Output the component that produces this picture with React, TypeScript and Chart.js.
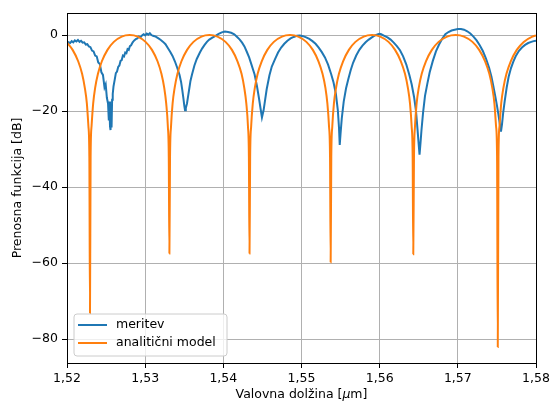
import React, { useEffect, useRef } from 'react';
import { Chart, registerables } from 'chart.js';

Chart.register(...registerables);

// ---- data ----
const measuredWl = [
  1.52000, 1.52020, 1.52040, 1.52060, 1.52080, 1.52100, 1.52120, 1.52140, 1.52160, 1.52180,
  1.52200, 1.52220, 1.52240, 1.52260, 1.52280, 1.52300, 1.52320, 1.52340, 1.52360, 1.52380,
  1.52400, 1.52420, 1.52440, 1.52460, 1.52480, 1.52495, 1.52510, 1.52525, 1.52535, 1.52542,
  1.52550, 1.52557, 1.52563, 1.52570, 1.52577, 1.52585, 1.52595, 1.52610, 1.52625, 1.52640,
  1.52655, 1.52670, 1.52685, 1.52700, 1.52715, 1.52730, 1.52745, 1.52760, 1.52775, 1.52790,
  1.52805, 1.52820, 1.52840, 1.52860, 1.52880, 1.52900, 1.52920, 1.52940, 1.52960, 1.52980,
  1.53000, 1.53020, 1.53040, 1.53060, 1.53080, 1.53100, 1.53120, 1.53140, 1.53170, 1.53200,
  1.53230, 1.53260, 1.53290, 1.53320, 1.53350, 1.53380, 1.53410, 1.53440, 1.53460, 1.53475,
  1.53490, 1.53500, 1.53510, 1.53520, 1.53535, 1.53550, 1.53565, 1.53580, 1.53600, 1.53630,
  1.53660, 1.53700, 1.53730, 1.53760, 1.53790, 1.53820, 1.53860, 1.53900, 1.53940, 1.53980,
  1.54020, 1.54060, 1.54100, 1.54140, 1.54180, 1.54210, 1.54240, 1.54270, 1.54300, 1.54330,
  1.54360, 1.54400, 1.54430, 1.54455, 1.54475, 1.54494, 1.54515, 1.54535, 1.54555, 1.54590,
  1.54620, 1.54660, 1.54700, 1.54740, 1.54780, 1.54820, 1.54860, 1.54900, 1.54940, 1.54980,
  1.55020, 1.55060, 1.55100, 1.55140, 1.55180, 1.55220, 1.55260, 1.55300, 1.55340, 1.55380,
  1.55410, 1.55440, 1.55465, 1.55480, 1.55489, 1.55500, 1.55515, 1.55540, 1.55570, 1.55600,
  1.55630, 1.55660, 1.55700, 1.55740, 1.55780, 1.55820, 1.55860, 1.55900, 1.55940, 1.55980,
  1.56000, 1.56020, 1.56060, 1.56100, 1.56140, 1.56180, 1.56220, 1.56260, 1.56300, 1.56340,
  1.56380, 1.56410, 1.56440, 1.56465, 1.56485, 1.56500, 1.56510, 1.56522, 1.56535, 1.56555,
  1.56580, 1.56610, 1.56640, 1.56680, 1.56720, 1.56760, 1.56800, 1.56840, 1.56880, 1.56920,
  1.56960, 1.57000, 1.57040, 1.57080, 1.57120, 1.57160, 1.57200, 1.57240, 1.57280, 1.57320,
  1.57360, 1.57400, 1.57430, 1.57455, 1.57480, 1.57500, 1.57520, 1.57540, 1.57552, 1.57565,
  1.57580, 1.57600, 1.57625, 1.57650, 1.57680, 1.57710, 1.57740, 1.57780, 1.57820, 1.57860,
  1.57900, 1.57940, 1.57970, 1.58000,
];
const measuredDb = [
  -2.3, -1.9, -2.1, -1.6, -1.9, -1.4, -1.7, -1.3, -1.8, -1.5,
  -2.0, -1.9, -2.5, -2.4, -3.0, -3.2, -4.1, -4.3, -5.4, -5.6,
  -7.2, -7.6, -9.8, -10.5, -13.8, -13.0, -16.5, -18.0, -22.5, -17.5,
  -24.0, -25.0, -19.0, -24.3, -17.0, -15.5, -13.5, -11.8, -10.0, -9.6,
  -8.4, -8.0, -6.8, -6.6, -5.4, -5.6, -4.6, -4.8, -3.7, -3.9,
  -2.9, -2.7, -1.9, -1.4, -1.1, -0.9, -0.4, -0.6, -0.1, 0.2,
  -0.1, 0.4, 0.1, 0.5, 0.0, -0.2, -0.3, -0.5, -0.9, -1.3,
  -1.8, -2.4, -3.4, -4.4, -5.5, -6.9, -8.6, -10.5, -12.4, -14.5,
  -16.8, -18.5, -19.8, -19.2, -18.0, -16.0, -14.0, -12.0, -10.3, -8.0,
  -6.3, -4.6, -3.5, -2.6, -1.8, -1.2, -0.7, -0.2, 0.3, 0.7,
  0.9, 0.8, 0.6, 0.2, -0.6, -1.2, -2.0, -3.0, -4.4, -5.9,
  -7.8, -10.4, -13.4, -16.5, -19.2, -21.7, -19.8, -17.0, -14.2, -10.6,
  -8.3, -6.4, -4.6, -3.3, -2.3, -1.5, -0.9, -0.5, -0.2, -0.1,
  -0.3, -0.6, -1.0, -1.6, -2.3, -3.3, -4.5, -5.9, -7.8, -10.3,
  -12.5, -15.5, -19.8, -24.5, -28.9, -25.8, -22.0, -17.5, -14.0, -11.5,
  -9.2, -7.3, -5.4, -3.9, -2.8, -1.9, -1.2, -0.6, -0.1, 0.2,
  0.3, 0.2, -0.2, -0.6, -1.2, -2.0, -2.9, -4.0, -5.6, -7.7,
  -10.5, -13.0, -16.3, -20.0, -25.0, -29.0, -31.5, -28.5, -25.0, -20.5,
  -16.0, -12.8, -9.8, -6.8, -4.3, -2.5, -1.0, 0.2, 0.8, 1.2,
  1.4, 1.6, 1.6, 1.4, 1.0, 0.4, -0.4, -1.4, -2.7, -4.2,
  -6.2, -8.6, -11.0, -13.5, -16.2, -18.5, -21.0, -23.8, -25.4, -23.5,
  -20.5, -17.3, -13.8, -11.0, -8.7, -7.0, -5.6, -4.2, -3.3, -2.6,
  -2.1, -1.8, -1.6, -1.5,
];

const modelWl = [
  1.52000, 1.52072, 1.52143, 1.52193, 1.52228, 1.52254, 1.52274, 1.52286, 1.52294,
  1.52302, 1.52314, 1.52335, 1.52360, 1.52396, 1.52446, 1.52518, 1.52599, 1.52700, 1.52802,
  1.52904, 1.53005, 1.53087, 1.53158, 1.53208, 1.53244, 1.53269, 1.53290, 1.53302, 1.53310,
  1.53318, 1.53331, 1.53351, 1.53377, 1.53413, 1.53464, 1.53536, 1.53618, 1.53720, 1.53823,
  1.53925, 1.54028, 1.54110, 1.54181, 1.54233, 1.54268, 1.54294, 1.54315, 1.54327, 1.54335,
  1.54343, 1.54356, 1.54377, 1.54403, 1.54439, 1.54491, 1.54563, 1.54646, 1.54750, 1.54854,
  1.54958, 1.55062, 1.55145, 1.55217, 1.55269, 1.55306, 1.55331, 1.55352, 1.55365, 1.55373,
  1.55381, 1.55394, 1.55415, 1.55442, 1.55479, 1.55532, 1.55606, 1.55690, 1.55796, 1.55902,
  1.56007, 1.56113, 1.56197, 1.56271, 1.56324, 1.56361, 1.56388, 1.56409, 1.56422, 1.56430,
  1.56439, 1.56452, 1.56473, 1.56500, 1.56538, 1.56592, 1.56668, 1.56754, 1.56862, 1.56971,
  1.57079, 1.57187, 1.57273, 1.57349, 1.57403, 1.57441, 1.57468, 1.57489, 1.57502, 1.57511,
  1.57520, 1.57533, 1.57555, 1.57583, 1.57622, 1.57677, 1.57754, 1.57843, 1.57953, 1.58000,
];
const modelDb = [
  -2.0, -3.9, -6.9, -10.2, -13.9, -18.0, -24.0, -32.0, -73.2,
  -32.0, -24.0, -18.0, -13.9, -10.2, -6.9, -3.9, -1.8, -0.4, 0.0,
  -0.4, -1.8, -3.9, -6.9, -10.2, -13.9, -18.0, -24.0, -32.0, -57.5,
  -32.0, -24.0, -18.0, -13.9, -10.2, -6.9, -3.9, -1.8, -0.4, 0.0,
  -0.4, -1.8, -3.9, -6.9, -10.2, -13.9, -18.0, -24.0, -32.0, -57.5,
  -32.0, -24.0, -18.0, -13.9, -10.2, -6.9, -3.9, -1.8, -0.4, 0.0,
  -0.4, -1.8, -3.9, -6.9, -10.2, -13.9, -18.0, -24.0, -32.0, -59.8,
  -32.0, -24.0, -18.0, -13.9, -10.2, -6.9, -3.9, -1.8, -0.4, 0.0,
  -0.4, -1.8, -3.9, -6.9, -10.2, -13.9, -18.0, -24.0, -32.0, -57.7,
  -32.0, -24.0, -18.0, -13.9, -10.2, -6.9, -3.9, -1.8, -0.4, 0.0,
  -0.4, -1.8, -3.9, -6.9, -10.2, -13.9, -18.0, -24.0, -32.0, -82.1,
  -32.0, -24.0, -18.0, -13.9, -10.2, -6.9, -3.9, -1.8, -0.4, -0.1,
];

const seriesLabels = ['meritev', 'analitični model'];
const seriesColors = ['#1f77b4', '#ff7f0e'];
const xTicks = [1.52, 1.53, 1.54, 1.55, 1.56, 1.57, 1.58];
const xTickLabels = ['1,52', '1,53', '1,54', '1,55', '1,56', '1,57', '1,58'];
const yTicks = [-80, -60, -40, -20, 0];
const yTickLabels = ['\u221280', '\u221260', '\u221240', '\u221220', '0'];
const xRange = [1.52, 1.58];
const yRange = [-86.3, 5.8];
const xTitleParts = ['Valovna dolžina [', 'μ', 'm]'];
const yTitle = 'Prenosna funkcija [dB]';

const FONT = '"DejaVu Sans", sans-serif';
const FS = 12.5;

const decorPlugin = {
  id: 'decor',
  afterDatasetsDraw(chart: any) {
    const { ctx, chartArea: a } = chart;
    ctx.save();
    ctx.strokeStyle = '#000';
    ctx.lineWidth = 1;
    ctx.strokeRect(Math.round(a.left) + 0.5, Math.round(a.top) + 0.5,
      Math.round(a.right - a.left), Math.round(a.bottom - a.top));
    ctx.restore();
  },
  afterDraw(chart: any) {
    const { ctx, chartArea: a } = chart;
    ctx.save();
    // legend
    const bx = a.left + 7, by = a.bottom - 49, bw = 153, bh = 42, r = 3;
    ctx.beginPath();
    ctx.moveTo(bx + r, by);
    ctx.arcTo(bx + bw, by, bx + bw, by + bh, r);
    ctx.arcTo(bx + bw, by + bh, bx, by + bh, r);
    ctx.arcTo(bx, by + bh, bx, by, r);
    ctx.arcTo(bx, by, bx + bw, by, r);
    ctx.closePath();
    ctx.fillStyle = 'rgba(255,255,255,0.8)';
    ctx.fill();
    ctx.strokeStyle = '#cccccc';
    ctx.lineWidth = 1;
    ctx.stroke();
    ctx.font = `${FS}px ${FONT}`;
    ctx.textBaseline = 'middle';
    ctx.textAlign = 'left';
    chart.data.datasets.forEach((ds: any, i: number) => {
      const ly = by + 11 + i * 18;
      ctx.strokeStyle = ds.borderColor;
      ctx.lineWidth = 2;
      ctx.beginPath();
      ctx.moveTo(bx + 4, ly);
      ctx.lineTo(bx + 33, ly);
      ctx.stroke();
      ctx.fillStyle = '#000';
      ctx.fillText(ds.label, bx + 42, ly);
    });
    // x title with italic mu
    const fonts = [`${FS}px ${FONT}`, `italic ${FS}px ${FONT}`, `${FS}px ${FONT}`];
    const widths = xTitleParts.map((t, i) => { ctx.font = fonts[i]; return ctx.measureText(t).width; });
    const total = widths.reduce((s, w) => s + w, 0);
    let x = (a.left + a.right) / 2 - total / 2;
    ctx.fillStyle = '#000';
    xTitleParts.forEach((t, i) => {
      ctx.font = fonts[i];
      ctx.fillText(t, x, 395);
      x += widths[i];
    });
    // y title
    ctx.font = `${FS}px ${FONT}`;
    ctx.translate(18, (a.top + a.bottom) / 2);
    ctx.rotate(-Math.PI / 2);
    ctx.textAlign = 'center';
    ctx.fillText(yTitle, 0, 0);
    ctx.restore();
  },
};

export default function App() {
  const ref = useRef<HTMLCanvasElement>(null);
  useEffect(() => {
    if (!ref.current) return;
    const chart = new Chart(ref.current, {
      type: 'line',
      data: {
        datasets: [
          {
            label: seriesLabels[0],
            data: measuredWl.map((x, i) => ({ x, y: measuredDb[i] })),
            borderColor: seriesColors[0],
            backgroundColor: seriesColors[0],
            borderWidth: 2,
            pointRadius: 0,
            tension: 0,
            order: 1,
          },
          {
            label: seriesLabels[1],
            data: modelWl.map((x, i) => ({ x, y: modelDb[i] })),
            borderColor: seriesColors[1],
            backgroundColor: seriesColors[1],
            borderWidth: 2,
            pointRadius: 0,
            cubicInterpolationMode: 'monotone',
            order: 0,
          },
        ],
      } as any,
      options: {
        responsive: false,
        animation: false,
        devicePixelRatio: 1,
        layout: { padding: { left: 0, top: 13, right: 15, bottom: 0 } },
        plugins: { legend: { display: false }, tooltip: { enabled: false } },
        scales: {
          x: {
            type: 'linear',
            min: xRange[0],
            max: xRange[1],
            afterBuildTicks: (s: any) => { s.ticks = xTicks.map((v) => ({ value: v })); },
            afterFit: (s: any) => { s.height = 40; s.paddingRight = 0; s.paddingLeft = 0; },
            ticks: {
              callback: (_v: any, i: number) => xTickLabels[i],
              font: { family: FONT, size: FS },
              color: '#000',
              padding: 3,
              maxRotation: 0,
              autoSkip: false,
            },
            grid: { color: '#b0b0b0', lineWidth: 1, tickColor: '#000', tickLength: 5, tickWidth: 1 },
            border: { display: false },
          },
          y: {
            type: 'linear',
            min: yRange[0],
            max: yRange[1],
            afterBuildTicks: (s: any) => { s.ticks = yTicks.map((v) => ({ value: v })); },
            afterFit: (s: any) => { s.width = 67; s.paddingTop = 0; s.paddingBottom = 0; },
            ticks: {
              callback: (_v: any, i: number) => yTickLabels[i],
              font: { family: FONT, size: FS },
              color: '#000',
              padding: 4,
              autoSkip: false,
            },
            grid: { color: '#b0b0b0', lineWidth: 1, tickColor: '#000', tickLength: 5, tickWidth: 1 },
            border: { display: false },
          },
        },
      } as any,
      plugins: [decorPlugin],
    });
    return () => chart.destroy();
  }, []);
  return (
    <div style={{ position: 'absolute', left: 0, top: 0, width: 551, height: 403, background: '#fff' }}>
      <canvas ref={ref} width={551} height={403} style={{ display: 'block' }} />
    </div>
  );
}
